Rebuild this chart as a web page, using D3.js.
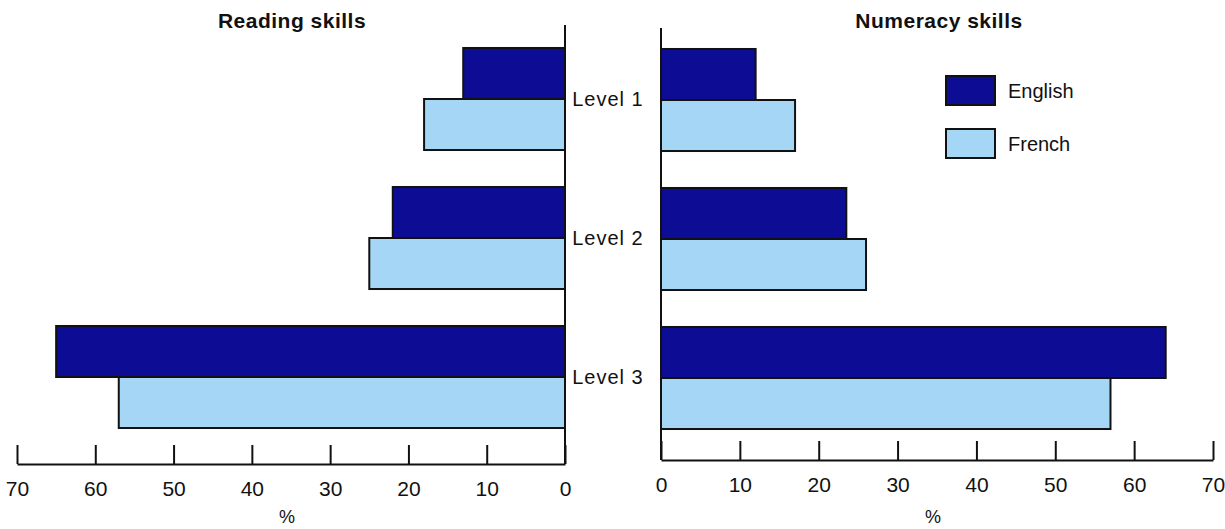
<!DOCTYPE html>
<html>
<head>
<meta charset="utf-8">
<script src="https://cdn.jsdelivr.net/npm/d3@7"></script>
<style>
  body { margin: 0; background: #fff; }
  text { font-family: "Liberation Sans", Arial, sans-serif; fill: #111; }
</style>
</head>
<body>
<div id="chart"></div>
<script>
    // данные
    const levels = ["Level 1", "Level 2", "Level 3"];
    const languages = ["English", "French"];
    const readingEnglish = [13, 22, 65];
    const readingFrench = [18, 25, 57];
    const numeracyEnglish = [12, 23.5, 64];
    const numeracyFrench = [17, 26, 57];
    const tickValues = [0, 10, 20, 30, 40, 50, 60, 70];
    const colors = { English: "#0c0c94", French: "#a6d6f6" };

    const width = 1225;
    const height = 529;

    const svg = d3.select("#chart")
        .append("svg")
        .attr("width", width)
        .attr("height", height);

    const yScale = d3.scaleBand()
        .domain(levels)
        .range([29.5, 446.5])
        .paddingInner(0.266)
        .paddingOuter(0.133);

    const subScale = d3.scaleBand()
        .domain(languages)
        .range([0, yScale.bandwidth()]);

    const xLeft = d3.scaleLinear().domain([0, 70]).range([565, 17]);
    const xRight = d3.scaleLinear().domain([0, 70]).range([661, 1213]);

    function rows(eng, fr) {
        const out = [];
        levels.forEach((lv, i) => {
            out.push({ level: lv, lang: "English", value: eng[i] });
            out.push({ level: lv, lang: "French", value: fr[i] });
        });
        return out;
    }

    function drawPanel(x, data, opts) {
        const g = svg.append("g");
        const axisY = opts.axisY;

        g.selectAll("rect")
            .data(data)
            .enter().append("rect")
            .attr("x", d => Math.min(x(0), x(d.value)))
            .attr("y", d => yScale(d.level) + subScale(d.lang) + opts.shift)
            .attr("width", d => Math.abs(x(d.value) - x(0)))
            .attr("height", subScale.bandwidth())
            .attr("fill", d => colors[d.lang])
            .attr("stroke", "#111")
            .attr("stroke-width", 2);

        const axis = g.append("g")
            .attr("transform", "translate(0," + axisY + ")")
            .call(d3.axisBottom(x).tickValues(tickValues).tickSizeInner(-19).tickSizeOuter(0).tickPadding(17));
        axis.select(".domain").attr("stroke", "#111").attr("stroke-width", 2);
        axis.selectAll(".tick line").attr("stroke", "#111").attr("stroke-width", 2);
        axis.selectAll(".tick text")
            .attr("font-size", "21px")
            .attr("fill", "#111");

        // вертикальная линия у нуля
        g.append("line")
            .attr("x1", x(0)).attr("x2", x(0))
            .attr("y1", opts.top).attr("y2", axisY)
            .attr("stroke", "#111")
            .attr("stroke-width", 2);

        g.append("text")
            .attr("x", opts.titleX)
            .attr("y", 28)
            .attr("text-anchor", "middle")
            .attr("font-size", "21px")
            .attr("font-weight", "bold")
            .attr("letter-spacing", "0.5px")
            .text(opts.title);

        g.append("text")
            .attr("x", opts.pctX)
            .attr("y", 523)
            .attr("text-anchor", "middle")
            .attr("font-size", "18px")
            .text("%");
    }

    drawPanel(xLeft, rows(readingEnglish, readingFrench),
        { title: "Reading skills", titleX: 292, axisY: 464, top: 25, pctX: 287, shift: 0 });
    drawPanel(xRight, rows(numeracyEnglish, numeracyFrench),
        { title: "Numeracy skills", titleX: 939, axisY: 460, top: 28, pctX: 933, shift: 1 });

    // подписи уровней между панелями
    svg.selectAll(".level")
        .data(levels)
        .enter().append("text")
        .attr("class", "level")
        .attr("x", 608)
        .attr("y", d => yScale(d) + yScale.bandwidth() / 2 + 7)
        .attr("text-anchor", "middle")
        .attr("font-size", "20px")
        .attr("letter-spacing", "1px")
        .text(d => d);

    // легенда
    const legend = svg.append("g").attr("transform", "translate(946,76)");
    languages.forEach((lang, i) => {
        legend.append("rect")
            .attr("x", 0)
            .attr("y", i * 53)
            .attr("width", 49)
            .attr("height", 29)
            .attr("fill", colors[lang])
            .attr("stroke", "#111")
            .attr("stroke-width", 2);
        legend.append("text")
            .attr("x", 62)
            .attr("y", i * 53 + 22)
            .attr("font-size", "20px")
            .text(lang);
    });
</script>
</body>
</html>
